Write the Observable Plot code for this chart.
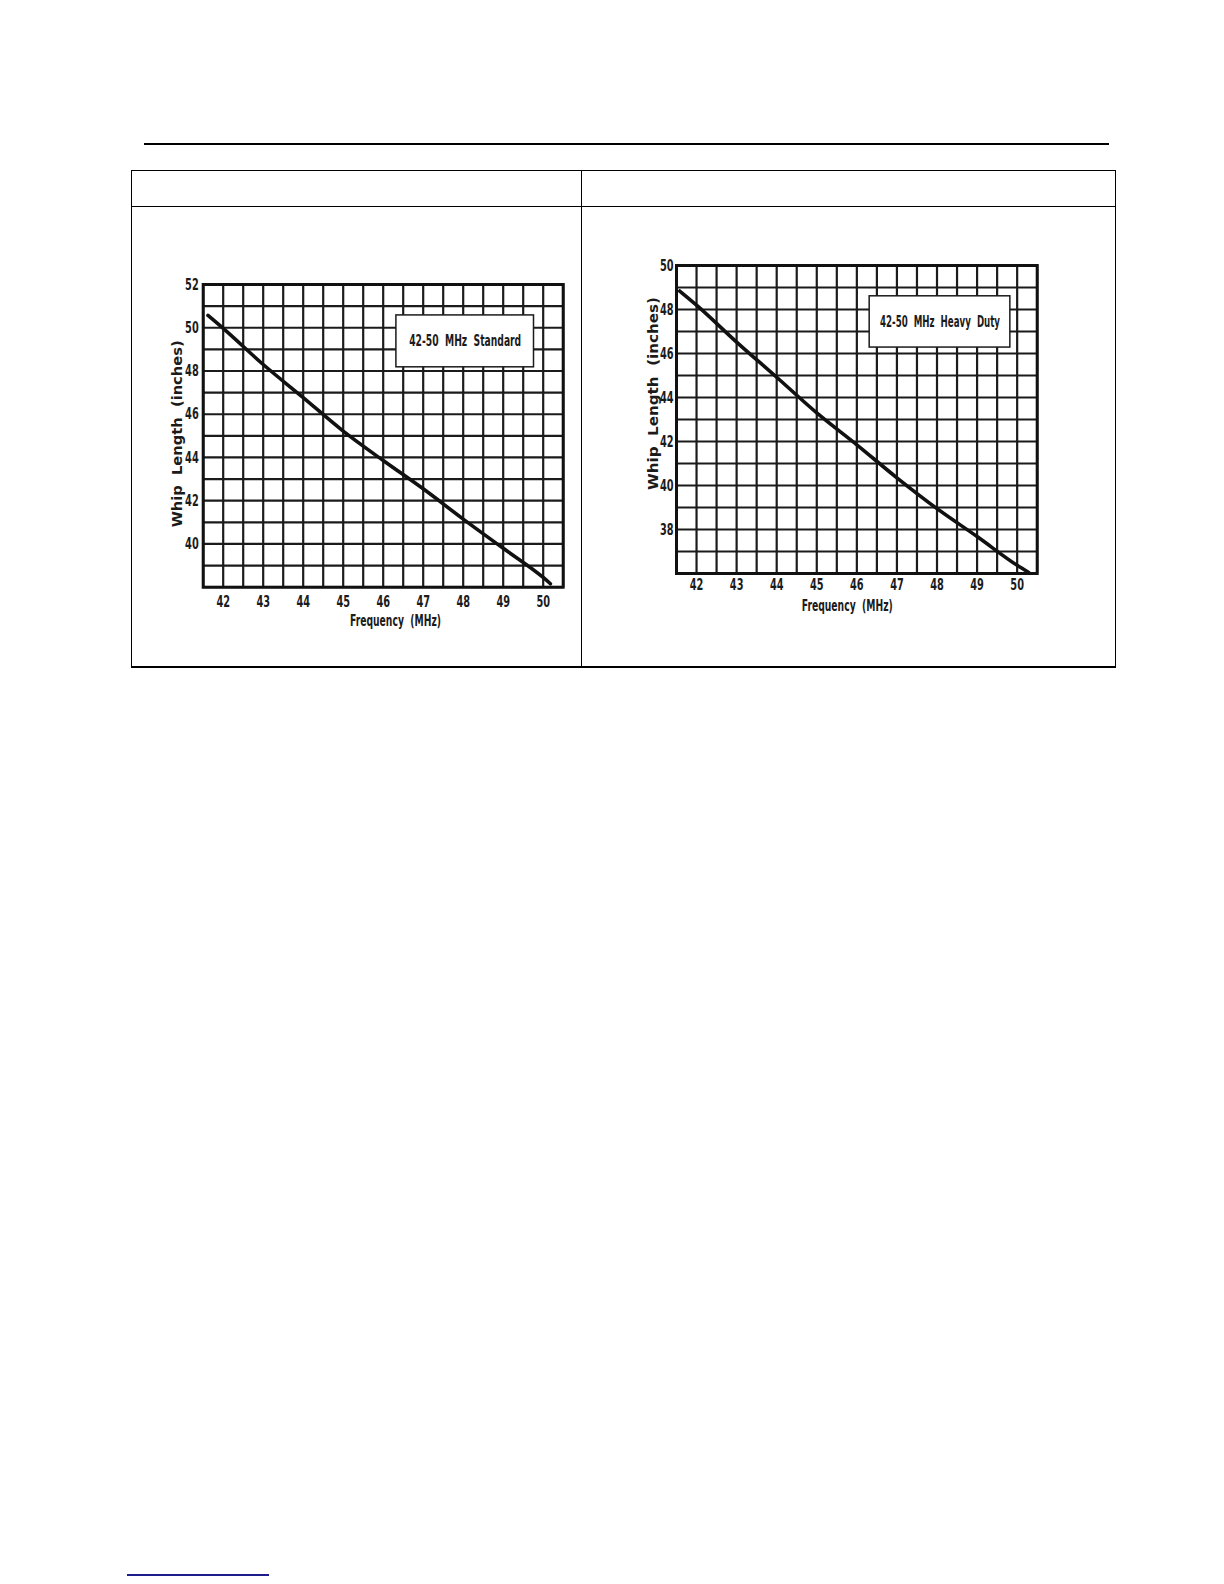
<!DOCTYPE html>
<html>
<head>
<meta charset="utf-8">
<script src="https://cdn.jsdelivr.net/npm/d3@7"></script>
<script src="https://cdn.jsdelivr.net/npm/@observablehq/plot@0.6"></script>
<style>
  html, body { margin: 0; padding: 0; background: #fff; }
  #page { position: relative; width: 1224px; height: 1584px; background: #fff; overflow: hidden; }
  .abs { position: absolute; }
  .hline { position: absolute; background: #000; }
</style>
</head>
<body>
<div id="page">
  <div class="hline" style="left:144px; top:143px; width:965px; height:2px;"></div>
  <div class="hline" style="left:131px; top:170px; width:984px; height:1px;"></div>
  <div class="hline" style="left:131px; top:206px; width:984px; height:1px;"></div>
  <div class="hline" style="left:131px; top:666px; width:985px; height:2px;"></div>
  <div class="hline" style="left:131px; top:170px; width:1px; height:497px;"></div>
  <div class="hline" style="left:581px; top:170px; width:1px; height:497px;"></div>
  <div class="hline" style="left:1115px; top:170px; width:1px; height:497px;"></div>
  <div class="hline" style="left:127px; top:1574px; width:142px; height:1.5px; background:#1c1c8a;"></div>
  <div id="left" class="abs" style="left:150px; top:250px;"></div>
  <div id="right" class="abs" style="left:620px; top:240px;"></div>
</div>
<script>
// ---- data ----
const xTicks = [42, 43, 44, 45, 46, 47, 48, 49, 50];
const xGrid = [41.5, 42, 42.5, 43, 43.5, 44, 44.5, 45, 45.5, 46, 46.5, 47, 47.5, 48, 48.5, 49, 49.5, 50, 50.5];

const leftYTicks = [40, 42, 44, 46, 48, 50, 52];
const leftYGrid = [38, 39, 40, 41, 42, 43, 44, 45, 46, 47, 48, 49, 50, 51, 52];
const leftFreq = [41.62, 42, 43, 44, 45, 46, 47, 48, 49, 50, 50.18];
const leftLen  = [50.57, 49.97, 48.3, 46.77, 45.22, 43.86, 42.55, 41.15, 39.8, 38.45, 38.16];
const leftBox = [46.33, 49.77, 50.57, 48.17]; // x1, x2, y1, y2 in data units
const leftBoxLabel = "42-50  MHz  Standard";

const rightYTicks = [38, 40, 42, 44, 46, 48, 50];
const rightYGrid = [36, 37, 38, 39, 40, 41, 42, 43, 44, 45, 46, 47, 48, 49, 50];
const rightFreq = [41.58, 42, 43, 44, 45, 46, 47, 48, 49, 50, 50.29];
const rightLen  = [48.84, 48.2, 46.52, 44.92, 43.3, 41.85, 40.35, 38.95, 37.68, 36.37, 36.04];
const rightBox = [46.32, 49.83, 48.6, 46.27];
const rightBoxLabel = "42-50  MHz  Heavy  Duty";

const xLabel = "Frequency  (MHz)";
const yLabel = "Whip  Length  (inches)";

// ---- drawing ----
const FONT = '"Liberation Sans Narrow", "Arial Narrow", "DejaVu Sans Condensed", sans-serif';
const INK = "#1b1b1b";

function chart(o, host) {
  const pts = o.freq.map((f, i) => ({f, len: o.len[i]}));
  const box = {x1: o.box[0], x2: o.box[1], y1: o.box[2], y2: o.box[3], label: o.boxLabel};
  const svg = Plot.plot({
    width: o.width, height: o.height,
    marginLeft: o.mL, marginRight: o.mR, marginTop: o.mT, marginBottom: o.mB,
    x: {domain: [41.5, 50.5], ticks: xTicks, tickSize: 0, tickPadding: o.xPad, label: null, tickFormat: d => String(d)},
    y: {domain: o.yDomain, ticks: o.yTicks, tickSize: 0, tickPadding: o.yPad, label: null, tickFormat: d => String(d)},
    style: {fontFamily: FONT, fontSize: "16px", fontWeight: "bold", color: INK, background: "transparent", overflow: "visible"},
    marks: [
      Plot.ruleX(xGrid, {stroke: INK, strokeWidth: 2.2}),
      Plot.ruleY(o.yGrid, {stroke: INK, strokeWidth: 2.2}),
      Plot.frame({stroke: "#111", strokeWidth: 3}),
      Plot.line(pts, {x: "f", y: "len", stroke: "#111", strokeWidth: 3.6, curve: "monotone-x"}),
      Plot.rect([box], {x1: "x1", x2: "x2", y1: "y1", y2: "y2", fill: "white", stroke: INK, strokeWidth: 1.5}),
      Plot.text([box], {x: d => (d.x1 + d.x2) / 2, y: d => (d.y1 + d.y2) / 2, text: "label", fontSize: 15, fontWeight: "bold", fill: INK}),
      Plot.text([yLabel], {frameAnchor: "left", textAnchor: "middle", lineAnchor: "middle", rotate: -90, dx: o.yLdx, dy: o.yLdy, text: d => d, fontSize: 14, fontWeight: "bold", fill: INK}),
      Plot.text([xLabel], {frameAnchor: "bottom", textAnchor: "middle", lineAnchor: "middle", dx: o.xLdx, dy: o.xLdy, text: d => d, fontSize: 15, fontWeight: "bold", fill: INK})
    ]
  });
  host.appendChild(svg);
  // condense text to match the narrow typeface of the original
  svg.querySelectorAll("text").forEach(t => {
    const s = t.textContent;
    let target;
    if (s === yLabel) target = o.yLlen;
    else if (s === xLabel) target = o.xLlen;
    else if (s === o.boxLabel) target = o.boxLen;
    else target = t.getComputedTextLength() * 0.68;
    t.setAttribute("textLength", target);
    t.setAttribute("lengthAdjust", "spacingAndGlyphs");
  });
  return svg;
}

chart({
  width: 420, height: 400, mL: 52.7, mR: 7.3, mT: 34, mB: 63.3,
  yDomain: [38, 52], yTicks: leftYTicks, yGrid: leftYGrid, xPad: 8, yPad: 4.5,
  freq: leftFreq, len: leftLen, box: leftBox, boxLabel: leftBoxLabel, boxLen: 112,
  yLdx: -25.5, yLdy: -2, yLlen: 187, xLdx: 12.3, xLdy: 34, xLlen: 91
}, document.getElementById("left"));

chart({
  width: 430, height: 400, mL: 56, mR: 13.3, mT: 25, mB: 67,
  yDomain: [36, 50], yTicks: rightYTicks, yGrid: rightYGrid, xPad: 5, yPad: 3,
  freq: rightFreq, len: rightLen, box: rightBox, boxLabel: rightBoxLabel, boxLen: 120,
  yLdx: -22.5, yLdy: -26, yLlen: 193, xLdx: -9.6, xLdy: 32.5, xLlen: 91
}, document.getElementById("right"));
</script>
</body>
</html>
